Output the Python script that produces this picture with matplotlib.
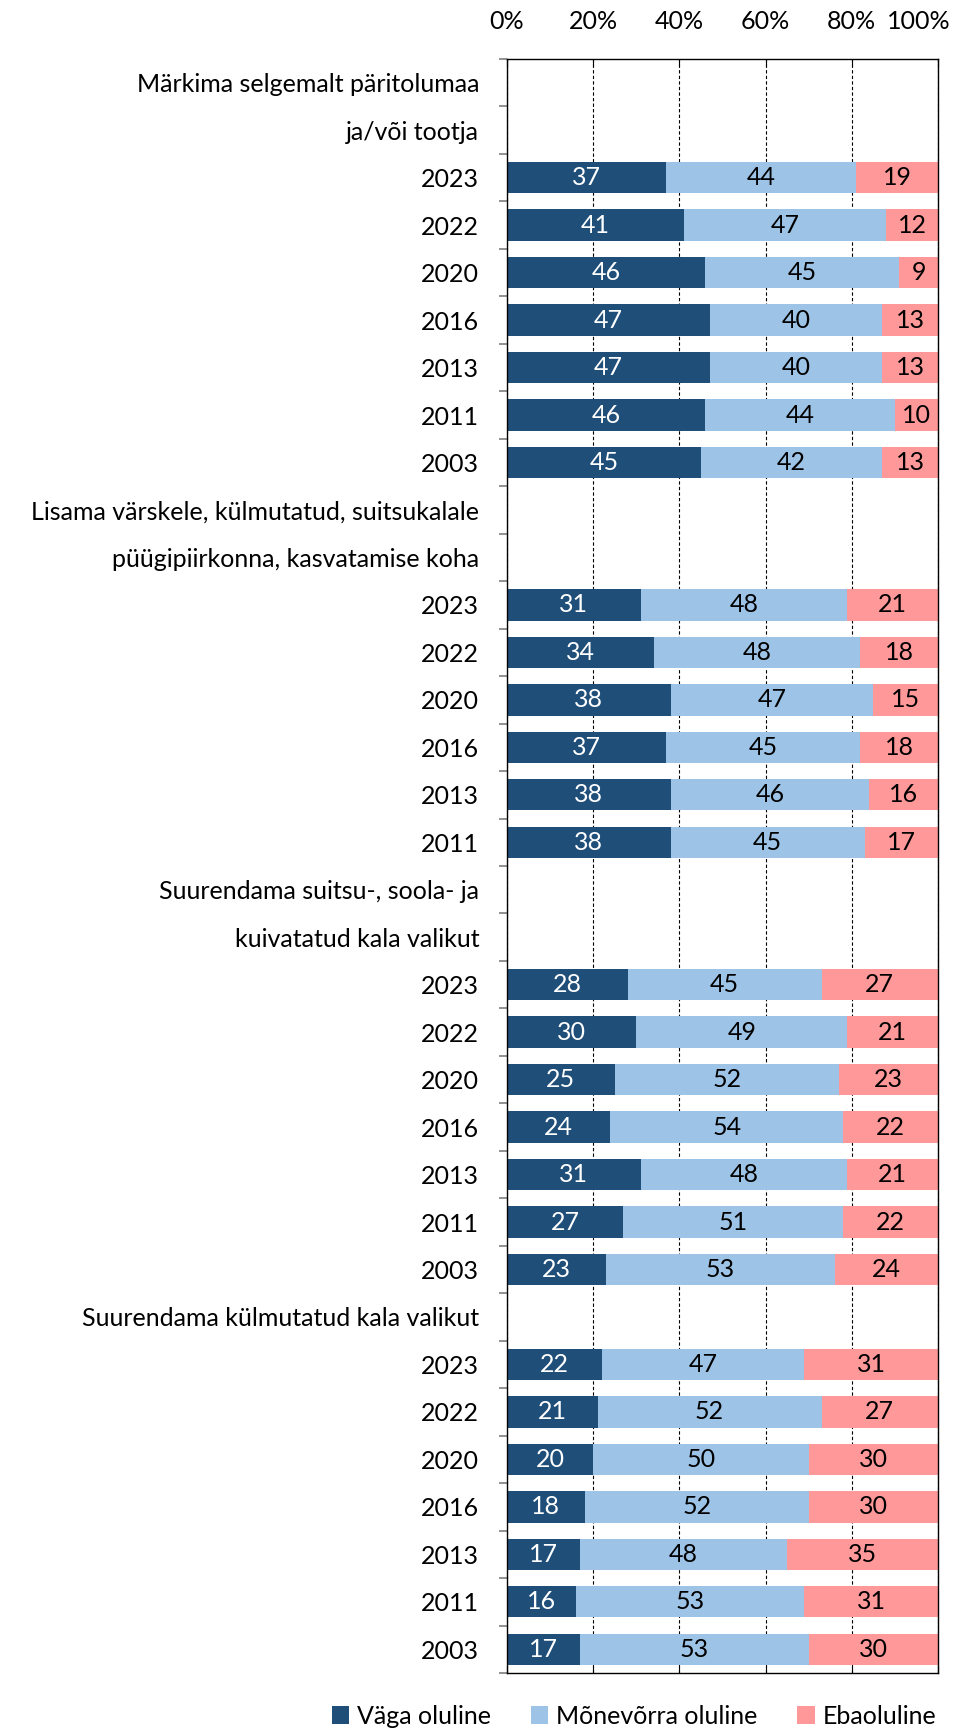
import matplotlib
matplotlib.use("Agg")
import matplotlib.pyplot as plt
import matplotlib.transforms as mtransforms
import numpy as np

plt.rcParams['font.family'] = ['Lato', 'DejaVu Sans']

# Row labels, top to bottom (group headings occupy their own rows)
row_labels = [
    "Märkima selgemalt päritolumaa", "ja/või tootja",
    "2023", "2022", "2020", "2016", "2013", "2011", "2003",
    "Lisama värskele, külmutatud, suitsukalale", "püügipiirkonna, kasvatamise koha",
    "2023", "2022", "2020", "2016", "2013", "2011",
    "Suurendama suitsu-, soola- ja", "kuivatatud kala valikut",
    "2023", "2022", "2020", "2016", "2013", "2011", "2003",
    "Suurendama külmutatud kala valikut",
    "2023", "2022", "2020", "2016", "2013", "2011", "2003",
]

# Shares per row (None for heading rows)
vaga = [None, None, 37, 41, 46, 47, 47, 46, 45,
        None, None, 31, 34, 38, 37, 38, 38,
        None, None, 28, 30, 25, 24, 31, 27, 23,
        None, 22, 21, 20, 18, 17, 16, 17]
monevorra = [None, None, 44, 47, 45, 40, 40, 44, 42,
             None, None, 48, 48, 47, 45, 46, 45,
             None, None, 45, 49, 52, 54, 48, 51, 53,
             None, 47, 52, 50, 52, 48, 53, 53]
ebaoluline = [None, None, 19, 12, 9, 13, 13, 10, 13,
              None, None, 21, 18, 15, 18, 16, 17,
              None, None, 27, 21, 23, 22, 21, 22, 24,
              None, 31, 27, 30, 30, 35, 31, 30]

series_names = ["Väga oluline", "Mõnevõrra oluline", "Ebaoluline"]
series_colors = ["#1F4E79", "#9DC3E6", "#FF9999"]
text_colors = ["white", "black", "black"]
x_ticks = [0, 20, 40, 60, 80, 100]

FS = 18

fig = plt.figure(figsize=(9.70, 17.29), dpi=100)
ax = fig.add_axes([507 / 970, 1 - 1673 / 1729, (938 - 507) / 970, (1673 - 59) / 1729])

n = len(row_labels)
y = np.arange(n)
bar_h = 0.66

left = np.zeros(n)
for vals, name, col, tcol in zip([vaga, monevorra, ebaoluline], series_names,
                                 series_colors, text_colors):
    idx = [i for i, v in enumerate(vals) if v is not None]
    w = np.array([vals[i] for i in idx], dtype=float)
    lft = left[idx]
    ax.barh(y[idx], w, left=lft, height=bar_h, color=col, label=name,
            edgecolor="none", zorder=2)
    for yi, wi, li in zip(y[idx], w, lft):
        ax.text(li + wi / 2, yi, f"{int(wi)}", ha="center", va="center",
                color=tcol, fontsize=FS, zorder=3)
    left[idx] = left[idx] + w

ax.set_xlim(0, 100)
ax.set_ylim(n - 0.5, -0.5)

# x axis on top with percent labels
ax.xaxis.set_ticks_position("both")
ax.xaxis.set_label_position("top")
ax.set_xticks(x_ticks)
ax.set_xticklabels([f"{t}%" for t in x_ticks])
ax.tick_params(axis="x", which="major", top=True, labeltop=True,
               bottom=True, labelbottom=False, direction="out",
               length=5, width=0.8, labelsize=FS, pad=19, color="black")
ax.tick_params(axis="x", which="major", bottom=True, direction="in")
ax.grid(axis="x", linestyle=(0, (3, 2)), color="black", linewidth=0.8, zorder=0)

# keep the last percent label inside the figure edge
fig.canvas.draw()
last = ax.xaxis.get_majorticklabels()[-1]
last.set_horizontalalignment("right")
last.set_transform(last.get_transform() +
                   mtransforms.ScaledTranslation(0.13, 0, fig.dpi_scale_trans))

# y labels at row centres, small ticks at row boundaries
ax.set_yticks(y)
ax.set_yticklabels(row_labels)
ax.set_yticks(np.arange(n + 1) - 0.5, minor=True)
ax.tick_params(axis="y", which="major", length=0, labelsize=FS, pad=20)
ax.tick_params(axis="y", which="minor", length=6, width=1.2, color="#7f7f7f",
               direction="out")

for s in ax.spines.values():
    s.set_color("black")
    s.set_linewidth(1.0)

fig.legend(*ax.get_legend_handles_labels(), loc="center",
           bbox_to_anchor=(634 / 970, 1 - 1716 / 1729), ncol=3, frameon=False,
           fontsize=FS, handlelength=0.7, handleheight=0.7, handletextpad=0.3,
           columnspacing=1.6, borderaxespad=0, borderpad=0)

fig.savefig("out.png", dpi=100)
